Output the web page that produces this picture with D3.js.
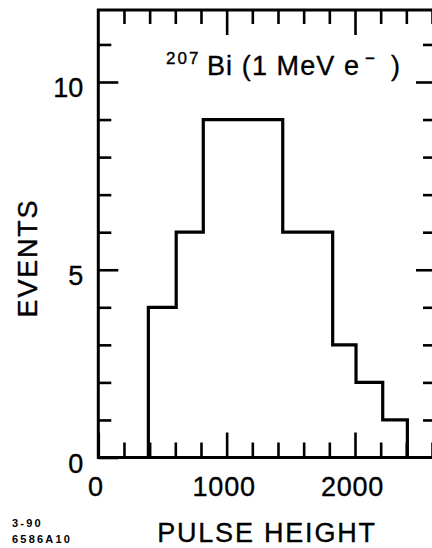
<!DOCTYPE html>
<html>
<head>
<meta charset="utf-8">
<script src="https://cdn.jsdelivr.net/npm/d3@7"></script>
<style>
  html, body { margin: 0; padding: 0; background: #fff; }
  svg { display: block; }
  text { font-family: "Liberation Sans", Arial, Helvetica, sans-serif; fill: #000; }
</style>
</head>
<body>
<svg id="chart" width="432" height="548"></svg>
<script>
// ---- data ----
const binEdges = [390, 607, 818, 1437, 1826, 2008, 2216, 2408];
const binCounts = [4, 6, 9, 6, 3, 2, 1];
const xMajorTicks = [0, 1000, 2000];
const xMinorTicks = [200, 400, 600, 800, 1200, 1400, 1600, 1800, 2200, 2400, 2600];
const yMajorTicks = [0, 5, 10];
const yMinorTicks = [1, 2, 3, 4, 6, 7, 8, 9, 11];
const xTitle = "PULSE HEIGHT";
const yTitle = "EVENTS";
const footer = ["3-90", "6586A10"];

// ---- layout ----
const svg = d3.select("#chart");
const pLeft = 98.3, pRight = 436, pTop = 10, pBottom = 457.5;
const x = d3.scaleLinear().domain([0, 2000]).range([pLeft, 355]);
const y = d3.scaleLinear().domain([0, 10]).range([pBottom, 82]);
const textStroke = 0.35;

function styleAxis(g) {
  g.select(".domain").remove();
  g.selectAll(".tick line").attr("stroke", "#000").attr("stroke-width", 2.6);
  g.selectAll(".tick text")
    .attr("font-size", 27)
    .attr("font-family", "Liberation Sans, Arial, sans-serif")
    .attr("fill", "#000")
    .attr("stroke", "#000")
    .attr("stroke-width", textStroke);
}

// bottom axis
svg.append("g").attr("transform", `translate(0,${pBottom})`)
  .call(d3.axisBottom(x).tickValues(xMinorTicks).tickSize(-15).tickFormat(""))
  .call(styleAxis);
svg.append("g").attr("transform", `translate(0,${pBottom})`)
  .call(d3.axisBottom(x).tickValues(xMajorTicks).tickSize(-25).tickPadding(19).tickFormat(d3.format("d")))
  .call(styleAxis)
  .call(g => g.selectAll(".tick text").attr("dx", -3).attr("letter-spacing", 0.8));

// top axis (mirror)
svg.append("g").attr("transform", `translate(0,${pTop})`)
  .call(d3.axisTop(x).tickValues(xMinorTicks).tickSize(-14).tickFormat(""))
  .call(styleAxis);
svg.append("g").attr("transform", `translate(0,${pTop})`)
  .call(d3.axisTop(x).tickValues(xMajorTicks.slice(1)).tickSize(-25).tickFormat(""))
  .call(styleAxis);

// left axis
svg.append("g").attr("transform", `translate(${pLeft},0)`)
  .call(d3.axisLeft(y).tickValues(yMinorTicks).tickSize(-13).tickFormat(""))
  .call(styleAxis);
svg.append("g").attr("transform", `translate(${pLeft},0)`)
  .call(d3.axisLeft(y).tickValues(yMajorTicks).tickSize(-20).tickPadding(15).tickFormat(d3.format("d")))
  .call(styleAxis)
  .call(g => g.selectAll(".tick text").attr("dy", "0.55em"));

// right axis (mirror)
svg.append("g").attr("transform", `translate(${pRight},0)`)
  .call(d3.axisRight(y).tickValues(yMinorTicks).tickSize(-13).tickFormat(""))
  .call(styleAxis);
svg.append("g").attr("transform", `translate(${pRight},0)`)
  .call(d3.axisRight(y).tickValues(yMajorTicks.slice(1)).tickSize(-20).tickFormat(""))
  .call(styleAxis);

// frame
svg.append("rect")
  .attr("x", pLeft).attr("y", pTop)
  .attr("width", pRight - pLeft).attr("height", pBottom - pTop)
  .attr("fill", "none").attr("stroke", "#000").attr("stroke-width", 3);

// histogram step outline
const pts = [[binEdges[0], 0]];
binCounts.forEach((c, i) => {
  pts.push([binEdges[i], c]);
  pts.push([binEdges[i + 1], c]);
});
pts.push([binEdges[binEdges.length - 1], 0]);
svg.append("path")
  .attr("d", d3.line().x(d => x(d[0])).y(d => y(d[1]))(pts))
  .attr("fill", "none").attr("stroke", "#000").attr("stroke-width", 3.2)
  .attr("stroke-linejoin", "miter");

// annotation 207Bi (1 MeV e-)
const ann = svg.append("g").attr("stroke", "#000").attr("stroke-width", textStroke);
ann.append("text").attr("x", 166).attr("y", 63.5).attr("font-size", 17).attr("letter-spacing", 2).text("207");
ann.append("text").attr("x", 207).attr("y", 75).attr("font-size", 27).attr("letter-spacing", 1.1).text("Bi (1 MeV e");
ann.append("text").attr("x", 365).attr("y", 64).attr("font-size", 17).text("\u2212");
ann.append("text").attr("x", 391).attr("y", 75).attr("font-size", 27).text(")");

// axis titles
svg.append("text")
  .attr("x", 267).attr("y", 542)
  .attr("text-anchor", "middle").attr("font-size", 27).attr("letter-spacing", 1.8)
  .attr("stroke", "#000").attr("stroke-width", textStroke)
  .text(xTitle);
svg.append("text")
  .attr("transform", "translate(37,258) rotate(-90)")
  .attr("text-anchor", "middle").attr("font-size", 27).attr("letter-spacing", 1.8)
  .attr("stroke", "#000").attr("stroke-width", textStroke)
  .text(yTitle);

// footer code
svg.selectAll(".foot").data(footer).enter().append("text")
  .attr("class", "foot")
  .attr("x", 12).attr("y", (d, i) => 527 + i * 16)
  .attr("font-size", 11).attr("font-weight", "bold").attr("letter-spacing", 2.2)
  .text(d => d);
</script>
</body>
</html>
